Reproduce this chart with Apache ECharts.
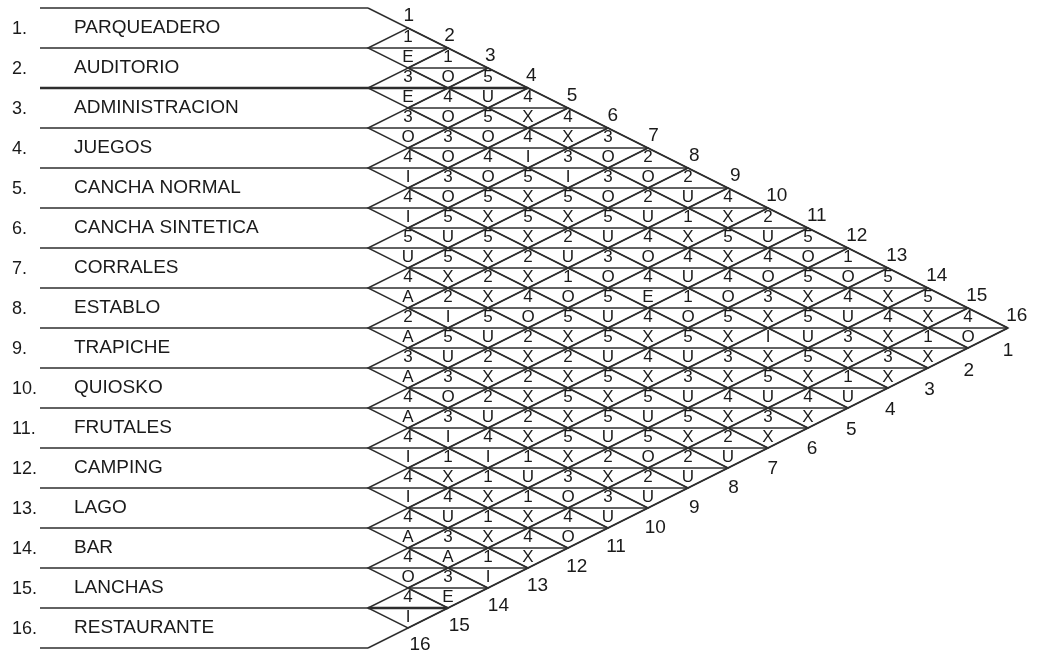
<!DOCTYPE html>
<html>
<head>
<meta charset="utf-8">
<script src="https://cdn.jsdelivr.net/npm/echarts@6/dist/echarts.min.js"></script>
<style>html,body{margin:0;padding:0;background:#fff}#c{width:1037px;height:658px}</style>
</head>
<body>
<div id="c"></div>
<script>
// ---- chart values ----
const names = ['PARQUEADERO', 'AUDITORIO', 'ADMINISTRACION', 'JUEGOS', 'CANCHA NORMAL',
  'CANCHA SINTETICA', 'CORRALES', 'ESTABLO', 'TRAPICHE', 'QUIOSKO', 'FRUTALES',
  'CAMPING', 'LAGO', 'BAR', 'LANCHAS', 'RESTAURANTE'];
const rowNumbers = ['1.', '2.', '3.', '4.', '5.', '6.', '7.', '8.', '9.', '10.', '11.', '12.', '13.', '14.', '15.', '16.'];
const topIndex = ['1', '2', '3', '4', '5', '6', '7', '8', '9', '10', '11', '12', '13', '14', '15', '16'];
const bottomIndex = ['1', '2', '3', '4', '5', '6', '7', '8', '9', '10', '11', '12', '13', '14', '15', '16'];
// relation letter of activity i with activity j (j = i+1 .. 16), one string per row
const relation = [
  'EOUXXOOUXUOOXXO',
  'EOOIIOUXXOXUXX',
  'OOOXXUOUOXUXX',
  'IOXXUOEOXXXU',
  'IUXXOUXUXUX',
  'UXXOXUXUXX',
  'AIUXXXUXU',
  'AUXXXUOU',
  'AOUXXXU',
  'AIIUOU',
  'IXXXO',
  'IUXX',
  'AAI',
  'OE',
  'I'
];
// reason code of activity i with activity j (j = i+1 .. 16)
const reason = [
  '115443224251554',
  '34543321545441',
  '3345554443533',
  '435523415I51',
  '45521545354',
  '5524554343',
  '425225552',
  '25225552',
  '3322522',
  '434133',
  '41114',
  '4414',
  '431',
  '43',
  '4'
];

// ---- build library data ----
const N = names.length;
const LINE = '#2e2e2e';
const TXT = '#1a1a1a';
const FONT = '"Liberation Sans", Arial, Helvetica, sans-serif';

const cells = [];
relation.forEach(function (rel, i) {
  const r = i + 1;
  for (let k = 0; k < rel.length; k++) {
    cells.push({ value: [k + 1, 2 * r + k], num: reason[i][k], letter: rel[k] });
  }
});

const segs = [];
for (let b = 0; b <= N; b++) segs.push({ value: [-8.2, 2 * b, 0, 2 * b], w: 1.4 });
segs.push({ value: [0, 0, N, N], w: 1.4 });
segs.push({ value: [0, 2 * N, N, N], w: 1.4 });
// heavier strokes seen in the original drawing
segs.push({ value: [-8.2, 4, 4, 4], w: 2.6 });
segs.push({ value: [0, 30, 2, 30], w: 2.6 });

const texts = [];
names.forEach(function (n, i) {
  texts.push({ value: [-7.35, 2 * i + 1], text: n, size: 19, align: 'left' });
  texts.push({ value: [-8.9, 2 * i + 1.05], text: rowNumbers[i], size: 18, align: 'left' });
});
topIndex.forEach(function (t, i) {
  const j = i + 1;
  texts.push({ value: [j + (j < 10 ? 0.02 * j : 0.22), j - 0.6], text: t, size: 19, align: 'center' });
});
bottomIndex.forEach(function (t, i) {
  const k = i + 1;
  const u = 17 - k + 0.02 * (k - 1);
  texts.push({ value: [u, 2 * N - u + 1.15], text: t, size: 19, align: 'center' });
});

const chart = echarts.init(document.getElementById('c'), null, { renderer: 'canvas' });
chart.setOption({
  animation: false,
  backgroundColor: '#ffffff',
  grid: { left: 0, right: 0, top: 0, bottom: 0 },
  xAxis: { type: 'value', min: -9.2, max: 16.725, show: false },
  yAxis: { type: 'value', min: -0.4, max: 32.5, inverse: true, show: false },
  series: [
    {
      type: 'custom', name: 'rules', data: segs, clip: false,
      renderItem: function (params, api) {
        const s = segs[params.dataIndex];
        const a = api.coord([s.value[0], s.value[1]]);
        const b = api.coord([s.value[2], s.value[3]]);
        return { type: 'line', shape: { x1: a[0], y1: a[1], x2: b[0], y2: b[1] },
          style: { stroke: LINE, lineWidth: s.w } };
      }
    },
    {
      type: 'custom', name: 'cells', data: cells, clip: false,
      renderItem: function (params, api) {
        const c = cells[params.dataIndex];
        const u = c.value[0], v = c.value[1];
        const l = api.coord([u - 1, v]), r = api.coord([u + 1, v]);
        const t = api.coord([u, v - 1]), b = api.coord([u, v + 1]);
        const pn = api.coord([u, v - 0.52]), pl = api.coord([u, v + 0.47]);
        return { type: 'group', children: [
          { type: 'polygon', shape: { points: [l, t, r, b] }, style: { fill: 'none', stroke: LINE, lineWidth: 1.4 } },
          { type: 'line', shape: { x1: l[0], y1: l[1], x2: r[0], y2: r[1] }, style: { stroke: LINE, lineWidth: 1.4 } },
          { type: 'text', x: pn[0], y: pn[1], style: { text: c.num, fill: TXT, fontSize: 17, fontFamily: FONT, align: 'center', verticalAlign: 'middle' } },
          { type: 'text', x: pl[0], y: pl[1], style: { text: c.letter, fill: TXT, fontSize: 17, fontFamily: FONT, align: 'center', verticalAlign: 'middle' } }
        ] };
      }
    },
    {
      type: 'custom', name: 'labels', data: texts, clip: false,
      renderItem: function (params, api) {
        const d = texts[params.dataIndex];
        const p = api.coord([d.value[0], d.value[1]]);
        return { type: 'text', x: p[0], y: p[1],
          style: { text: d.text, fill: TXT, fontSize: d.size, fontFamily: FONT, align: d.align, verticalAlign: 'middle' } };
      }
    }
  ]
});
</script>
</body>
</html>
